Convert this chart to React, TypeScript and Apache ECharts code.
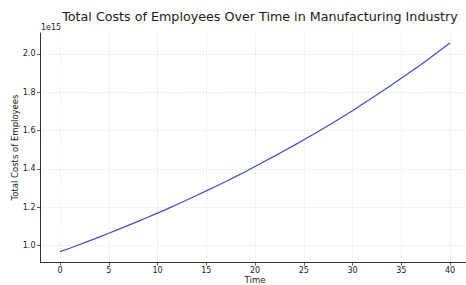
import React, { useEffect, useRef } from "react";
import * as echarts from "echarts";

const titleText = "Total Costs of Employees Over Time in Manufacturing Industry";
const xName = "Time";
const yName = "Total Costs of Employees";
const offsetText = "1e15";

const times = [
  0, 1, 2, 3, 4, 5, 6, 7, 8, 9, 10, 11, 12, 13, 14, 15, 16, 17, 18, 19, 20,
  21, 22, 23, 24, 25, 26, 27, 28, 29, 30, 31, 32, 33, 34, 35, 36, 37, 38, 39, 40,
];
// total costs in units of 1e15
const costs = [
  0.969, 0.987, 1.006, 1.025, 1.045, 1.065, 1.085, 1.106, 1.127, 1.148, 1.170,
  1.192, 1.215, 1.238, 1.262, 1.286, 1.310, 1.335, 1.360, 1.386, 1.413,
  1.440, 1.467, 1.495, 1.523, 1.552, 1.581, 1.611, 1.641, 1.672, 1.704,
  1.737, 1.770, 1.804, 1.838, 1.873, 1.908, 1.944, 1.981, 2.019, 2.057,
];
const xTicks = [0, 5, 10, 15, 20, 25, 30, 35, 40];
const yTicks = [1.0, 1.2, 1.4, 1.6, 1.8, 2.0];

const FONT = "DejaVu Sans";

export default function App() {
  const ref = useRef<HTMLDivElement>(null);
  useEffect(() => {
    if (!ref.current) return;
    const chart = echarts.init(ref.current, null, { renderer: "svg" });
    chart.setOption({
      animation: false,
      backgroundColor: "#ffffff",
      textStyle: { fontFamily: FONT },
      title: {
        text: titleText,
        left: 255,
        top: 5,
        textAlign: "center",
        textStyle: { fontFamily: FONT, fontSize: 12.7, fontWeight: "normal", color: "#1a1a1a" },
      },
      graphic: [
        {
          type: "text",
          left: 41,
          top: 23,
          style: { text: offsetText, fontFamily: FONT, fontSize: 8, fill: "#222" },
        },
      ],
      grid: {
        left: 40.5,
        right: -3.5,
        top: 33,
        bottom: 23,
        containLabel: false,
        outerBoundsMode: "none",
      },
      xAxis: {
        type: "value",
        min: -2,
        max: 42,
        name: xName,
        nameLocation: "middle",
        nameGap: 13,
        nameMoveOverlap: false,
        nameTextStyle: { fontFamily: FONT, fontSize: 8.5, color: "#222" },
        axisLine: { show: true, onZero: false, lineStyle: { color: "#333", width: 1 } },
        axisTick: { show: true, length: 3.5, customValues: xTicks, lineStyle: { color: "#333", width: 0.8 } },
        axisLabel: { customValues: xTicks, fontFamily: FONT, fontSize: 8, color: "#222", margin: 4 },
        splitLine: { show: true, lineStyle: { color: "#dcdcdc", type: [1, 1.5], width: 0.8 } },
      },
      yAxis: {
        type: "value",
        min: 0.915,
        max: 2.109,
        name: yName,
        nameLocation: "middle",
        nameGap: 21,
        nameMoveOverlap: false,
        nameTextStyle: { fontFamily: FONT, fontSize: 8.5, color: "#222" },
        axisLine: { show: true, onZero: false, lineStyle: { color: "#333", width: 1 } },
        axisTick: { show: true, length: 3.5, customValues: yTicks, lineStyle: { color: "#333", width: 0.8 } },
        axisLabel: {
          customValues: yTicks,
          fontFamily: FONT,
          fontSize: 8,
          color: "#222",
          margin: 5,
          formatter: (v: number) => v.toFixed(1),
        },
        splitLine: { show: true, lineStyle: { color: "#dcdcdc", type: [1, 1.5], width: 0.8 } },
      },
      series: [
        {
          type: "line",
          data: times.map((t, i) => [t, costs[i]]),
          showSymbol: false,
          smooth: false,
          lineStyle: { color: "#3f4fc0", width: 1.2 },
        },
      ],
    });
    return () => chart.dispose();
  }, []);
  return (
    <div
      ref={ref}
      style={{ position: "fixed", left: 0, top: 0, width: 466, height: 285 }}
    />
  );
}
